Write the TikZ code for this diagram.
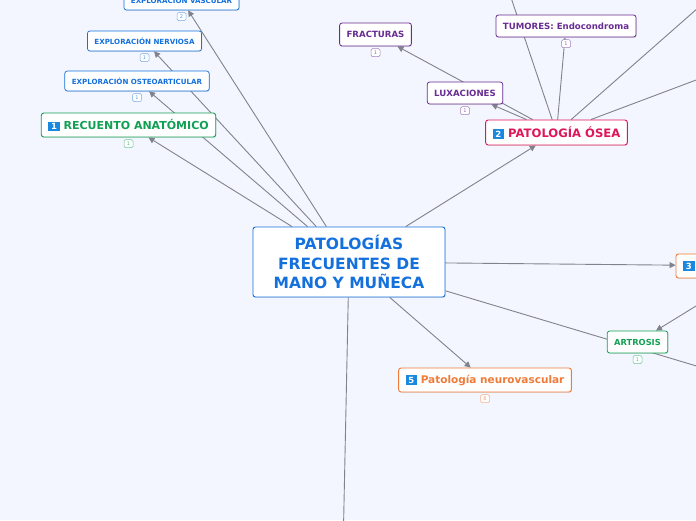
\documentclass[tikz,border=0pt]{standalone}
\usepackage{fontspec}
\setmainfont{DejaVu Sans}
\usetikzlibrary{arrows.meta,positioning,shadows,backgrounds}

\definecolor{bgmap}{RGB}{243,246,254}
\definecolor{mapblue}{RGB}{20,112,220}
\definecolor{mapgreen}{RGB}{16,160,84}
\definecolor{mappurple}{RGB}{104,44,146}
\definecolor{mapred}{RGB}{222,22,90}
\definecolor{maporange}{RGB}{240,122,56}
\definecolor{mapline}{RGB}{130,130,140}
\definecolor{iconblue}{RGB}{26,136,222}

\newcommand{\numicon}[1]{{\setlength{\fboxsep}{1.5pt}\colorbox{iconblue}{\makebox[8.5pt]{\color{white}\fontsize{8.5}{8.5}\selectfont\bfseries #1}}}}

\tikzset{
  topic/.style={draw=#1, text=#1, fill=white, rounded corners=2.5pt, line width=0.9pt,
    font=\bfseries, inner xsep=7pt, inner ysep=0pt,
    drop shadow={opacity=0.2, shadow xshift=0.7pt, shadow yshift=-0.9pt}},
  badge/.style={draw=#1!60, text=#1!70, fill=white, rounded corners=1.5pt, line width=0.5pt,
    font=\fontsize{5}{5}\selectfont, inner sep=0.8pt, minimum width=9pt, minimum height=8pt},
  link/.style={draw=mapline, line width=0.9pt, -{Triangle[length=6pt,width=6pt]}},
  plainlink/.style={draw=mapline, line width=0.9pt},
}

\begin{document}
\begin{tikzpicture}[x=1pt, y=-1pt]
	\useasboundingbox (0,0) rectangle (696,520);
	\clip (0,0) rectangle (696,520);

	% far ends of the branches that leave the picture
	\coordinate (offdown) at (342,600);
	\coordinate (offright) at (800,397);
	\coordinate (offup) at (500,-35);
	\coordinate (offnortheast) at (740,-29);
	\coordinate (offeast) at (760,56);

	% nodes
	\node[topic=mapblue, minimum width=192pt, minimum height=70pt, align=center,
		font=\fontsize{15.5}{19.5}\selectfont\bfseries] (root) at (349,262)
		{PATOLOGÍAS\\FRECUENTES DE\\MANO Y MUÑECA};

	\node[topic=mapgreen, minimum height=24pt, font=\fontsize{11}{11}\selectfont\bfseries] (anatomy) at (128.5,125)
		{\numicon{1} RECUENTO ANATÓMICO};
	\node[topic=mapblue, minimum height=20pt, line width=0.7pt, font=\fontsize{7.1}{7.1}\selectfont\bfseries] (osteo) at (137,81)
		{EXPLORACIÓN OSTEOARTICULAR};
	\node[topic=mapblue, minimum height=20pt, line width=0.7pt, font=\fontsize{7.1}{7.1}\selectfont\bfseries] (nerve) at (144.5,41)
		{EXPLORACIÓN NERVIOSA};
	\node[topic=mapblue, minimum height=20pt, line width=0.7pt, font=\fontsize{7.1}{7.1}\selectfont\bfseries] (vascular) at (181.5,0)
		{EXPLORACIÓN VASCULAR};

	\node[topic=mapred, minimum height=25pt, font=\fontsize{11.6}{11.6}\selectfont\bfseries] (bone) at (556.5,132.5)
		{\numicon{2} PATOLOGÍA ÓSEA};
	\node[topic=mappurple, minimum height=23pt, line width=0.8pt, font=\fontsize{8.6}{8.6}\selectfont\bfseries] (fract) at (375.5,34.5)
		{FRACTURAS};
	\node[topic=mappurple, minimum height=22pt, line width=0.8pt, font=\fontsize{8.6}{8.6}\selectfont\bfseries] (tumor) at (566,26)
		{TUMORES: Endocondroma};
	\node[topic=mappurple, minimum height=22pt, line width=0.8pt, font=\fontsize{8.6}{8.6}\selectfont\bfseries] (luxation) at (465,93)
		{LUXACIONES};

	\node[topic=maporange, minimum height=24pt, text width=156pt, align=left] (third) at (761,266)
		{\numicon{3}};
	\node[topic=mapgreen, minimum height=22pt, line width=0.8pt, font=\fontsize{8.3}{8.3}\selectfont\bfseries] (arthrosis) at (637.5,342)
		{ARTROSIS};
	\node[topic=maporange, minimum height=24pt, font=\fontsize{10.5}{10.5}\selectfont\bfseries] (neuro) at (485,380)
		{\numicon{5} Patología neurovascular};

	% badges
	\node[badge=mapgreen, below=2pt of anatomy] (anatomyb) {1};
	\node[badge=mapblue, below=2pt of osteo] (osteob) {1};
	\node[badge=mapblue, below=2pt of nerve] (nerveb) {1};
	\node[badge=mapblue, below=2pt of vascular] (vascularb) {2};
	\node[badge=mappurple, below=2pt of fract] (fractb) {1};
	\node[badge=mappurple, below=2pt of tumor] (tumorb) {1};
	\node[badge=mappurple, below=2pt of luxation] (luxationb) {1};
	\node[badge=mapgreen, below=2pt of arthrosis] (arthrosisb) {1};
	\node[badge=maporange, below=2pt of neuro] (neurob) {8};

	% connectors, behind the nodes
	\begin{pgfonlayer}{background}
		\fill[bgmap] (0,0) rectangle (696,520);
		\draw[link] (root) -- (anatomy);
		\draw[link] (root) -- (osteo);
		\draw[link] (root) -- (nerve);
		\draw[link] (root) -- (vascular);
		\draw[link] (root) -- (bone);
		\draw[link] (root) -- (third);
		\draw[link] (root) -- (neuro);
		\draw[plainlink] (root) -- (offright);
		\draw[plainlink] (root) -- (offdown);
		\draw[link] (bone) -- (fract);
		\draw[link] (bone) -- (luxation);
		\draw[link] (bone) -- (tumor);
		\draw[plainlink] (bone) -- (offup);
		\draw[plainlink] (bone) -- (offnortheast);
		\draw[plainlink] (bone) -- (offeast);
		\draw[link] (third) -- (arthrosis);
	\end{pgfonlayer}
\end{tikzpicture}
\end{document}
